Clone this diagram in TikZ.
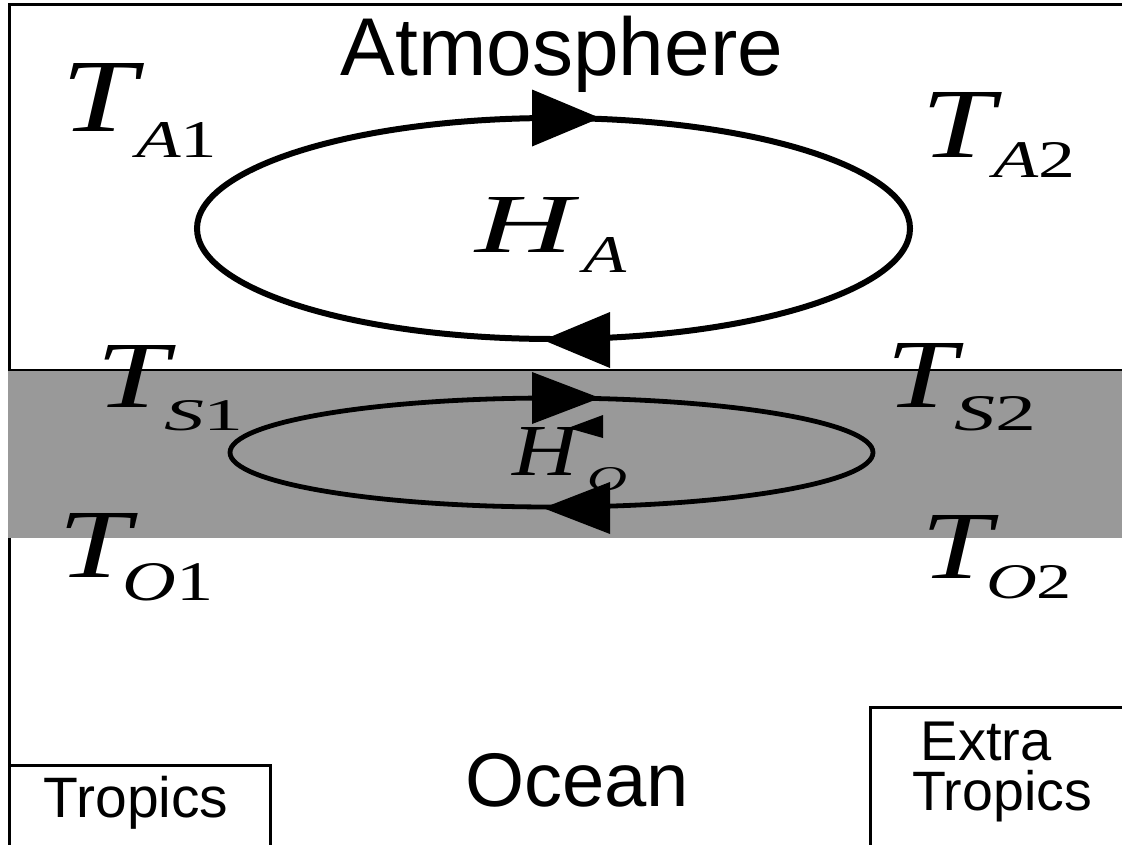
\documentclass[tikz,border=0pt]{standalone}
\usepackage{fontspec}
\setmainfont{Liberation Sans}
\newfontfamily\tms{Liberation Serif}
\usepackage{graphicx}
\definecolor{band}{HTML}{999999}
\newcommand{\mlab}[3]{\resizebox{#1pt}{#2pt}{#3}}
\tikzset{
  lab/.style={anchor=base west, inner sep=0pt, outer sep=0pt},
  sans/.style={anchor=base, inner sep=0pt, outer sep=0pt},
  edgeline/.style={line width=3pt},
  loopA/.style={line width=6pt},
  loopO/.style={line width=4.8pt}
}
\begin{document}
\begin{tikzpicture}[x=1pt,y=-1pt]
\useasboundingbox (0,0) rectangle (1122,844);
\fill[white] (-10,-10) rectangle (1140,860);
% frame lines
\draw[edgeline] (9,846) -- (9,4) -- (1130,4);
\draw[line width=2.5pt] (9,370) -- (1130,370);
% ocean surface band
\fill[band] (7.5,371) rectangle (1130,538);
% bottom boxes
\draw[edgeline] (9,765) -- (270,765) -- (270,850);
\draw[edgeline] (870,850) -- (870,707) -- (1130,707);
% circulation loops
\draw[loopA] (553.5,228.5) ellipse [x radius=356.5pt, y radius=110.5pt];
\draw[loopO] (551.5,452.5) ellipse [x radius=321.5pt, y radius=54.5pt];
% arrowheads
\fill (532,89.5) -- (600,118) -- (532,146.5) -- cycle;
\fill (610,312) -- (543,340) -- (610,368) -- cycle;
\fill (532,372) -- (600,398) -- (532,424) -- cycle;
\fill (610,482) -- (543,508) -- (610,534) -- cycle;
\fill (568,428) -- (603,415) -- (603,438) -- cycle;
% titles
\node[sans] (atm) at (562,75) {\fontsize{82}{82}\selectfont Atmosphere};
\node[sans] (ocean) at (577,806) {\fontsize{76}{76}\selectfont Ocean};
\node[sans] (trop) at (136,817) {\fontsize{57}{57}\selectfont Tropics};
\node[sans] (extra) at (986,760) {\fontsize{56}{56}\selectfont Extra};
\node[sans] (extrop) at (1002,810) {\fontsize{55.5}{55.5}\selectfont Tropics};
% temperature labels
\node[lab] (TA1) at (61,131) {\mlab{75}{68}{\tms\itshape T}};
\node[lab] (TA1s) at (136,157) {\mlab{81}{35}{\tms{\itshape A}1}};
\node[lab] (TA2) at (921,157) {\mlab{73}{65}{\tms\itshape T}};
\node[lab] (TA2s) at (993,177) {\mlab{82}{35}{\tms{\itshape A}2}};
\node[lab] (TS1) at (96,407) {\mlab{72}{62}{\tms\itshape T}};
\node[lab] (TS1s) at (164,430) {\mlab{80}{30}{\tms{\itshape S}1}};
\node[lab] (TS2) at (886,407) {\mlab{70}{64}{\tms\itshape T}};
\node[lab] (TS2s) at (954,430) {\mlab{82}{34}{\tms{\itshape S}2}};
\node[lab] (TO1) at (59,577) {\mlab{72}{64}{\tms\itshape T}};
\node[lab] (TO1s) at (122.5,600) {\mlab{91}{37}{\tms{\itshape O}1}};
\node[lab] (TO2) at (921,578) {\mlab{70}{63}{\tms\itshape T}};
\node[lab] (TO2s) at (986,598) {\mlab{86}{33}{\tms{\itshape O}2}};
% heat transport labels
\node[lab] (HA) at (475,252) {\mlab{98}{55}{\tms\itshape H}};
\node[lab] (HAs) at (583,272) {\mlab{43}{35}{\tms\itshape A}};
\node[lab] (HO) at (512,475) {\mlab{65}{48}{\tms\itshape H}};
\node[lab] (HOs) at (587,490) {\mlab{40}{23}{\tms\itshape O}};
\end{tikzpicture}
\end{document}
